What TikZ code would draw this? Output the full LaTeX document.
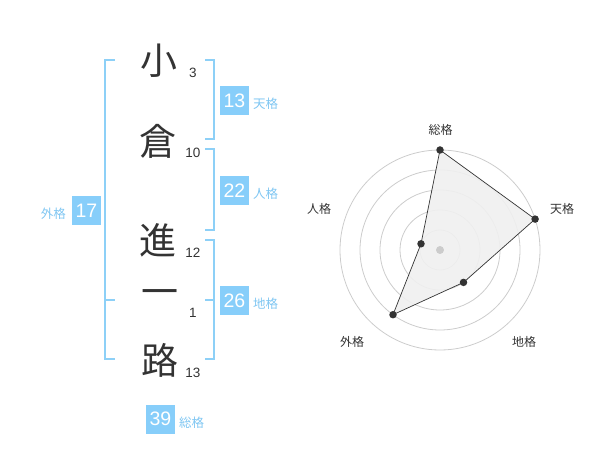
\documentclass[tikz,border=0pt]{standalone}
\usepackage{fontspec}
\setmainfont{Liberation Sans}
\newfontfamily\jp{Noto Sans CJK JP}
\definecolor{skyb}{HTML}{87CEFA}
\definecolor{brk}{HTML}{8DD0F7}
\definecolor{lbl}{HTML}{7FC6F2}
\definecolor{ink}{HTML}{333333}
\definecolor{ring}{HTML}{CCCCCC}
\begin{document}
\begin{tikzpicture}[x=1pt,y=-1pt,
  kanji/.style={font=\jp\fontsize{37}{37}\selectfont, text=ink, inner sep=0pt},
  stroke/.style={font=\fontsize{13.5}{14}\selectfont, text=ink, inner sep=0pt},
  numbox/.style={fill=skyb, text=white, minimum width=29pt, minimum height=29pt, inner sep=0pt, font=\fontsize{19.5}{19.5}\selectfont},
  kaku/.style={font=\jp\fontsize{12.5}{13}\selectfont, text=lbl, inner sep=0pt},
  bracket/.style={draw=brk, line width=2pt},
  rlabel/.style={font=\jp\fontsize{12}{12}\selectfont, text=ink, inner sep=0pt},
  ringline/.style={draw=ring, line width=0.8pt},
  dot/.style={circle, fill=ink, minimum size=7.5pt, inner sep=0pt}]
\useasboundingbox (0,0) rectangle (600,470);
% characters
\node[kanji] (c1) at (159,61) {小};
\node[kanji] (c2) at (158,141) {倉};
\node[kanji] (c3) at (158,240) {進};
\node[kanji] (c4) at (160,298) {一};
\node[kanji] (c5) at (160,360) {路};
% stroke counts
\node[stroke] (s1) at (193,73) {3};
\node[stroke] (s2) at (193,153) {10};
\node[stroke] (s3) at (193,253) {12};
\node[stroke] (s4) at (193,313) {1};
\node[stroke] (s5) at (193,373) {13};
% brackets
\draw[bracket] (205,60) -- (214,60) -- (214,139) -- (205,139);
\draw[bracket] (205,149) -- (214,149) -- (214,230) -- (205,230);
\draw[bracket] (205,240) -- (214,240) -- (214,359) -- (205,359);
\draw[bracket] (205,300) -- (214,300);
\draw[bracket] (115,60) -- (105,60) -- (105,359) -- (115,359);
\draw[bracket] (105,300) -- (115,300);
% boxes
\node[numbox] (ten) at (234.5,100.5) {13};
\node[kaku, anchor=west] (tenl) at (253,104) {天格};
\node[numbox] (jin) at (234.5,190.5) {22};
\node[kaku, anchor=west] (jinl) at (253,194) {人格};
\node[numbox] (chi) at (234.5,300.5) {26};
\node[kaku, anchor=west] (chil) at (253,304) {地格};
\node[numbox] (gai) at (86.5,210.5) {17};
\node[kaku, anchor=east] (gail) at (66,214) {外格};
\node[numbox] (sou) at (160.5,419) {39};
\node[kaku, anchor=west] (soul) at (179,423) {総格};
% radar
\foreach \r in {20,40,60,80,100} \draw[ringline] (440,250) circle (\r);
\coordinate (pS) at (440,150);
\coordinate (pT) at (535.1,219.1);
\coordinate (pC) at (463.5,282.4);
\coordinate (pG) at (393.0,314.7);
\coordinate (pJ) at (421.0,243.8);
\fill[black!6, opacity=0.9] (pS) -- (pT) -- (pC) -- (pG) -- (pJ) -- cycle;
\node[circle, fill=ring, minimum size=8pt, inner sep=0pt] (ctr) at (440,250) {};
\draw[ink, line width=0.7pt] (pS) -- (pT) -- (pC) -- (pG) -- (pJ) -- cycle;
\foreach \p in {pS,pT,pC,pG,pJ} \node[dot] at (\p) {};
\node[rlabel] (lS) at (440.5,130) {総格};
\node[rlabel] (lT) at (562,209) {天格};
\node[rlabel] (lC) at (524,342) {地格};
\node[rlabel] (lG) at (352,342) {外格};
\node[rlabel] (lJ) at (319,209) {人格};
\end{tikzpicture}
\end{document}
